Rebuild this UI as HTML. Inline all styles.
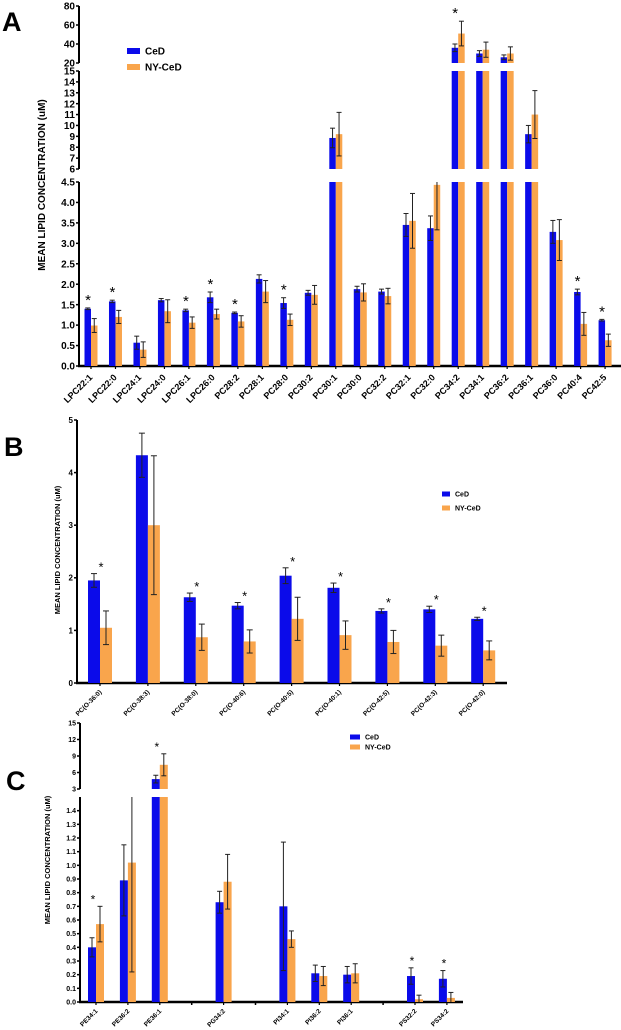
<!DOCTYPE html>
<html><head><meta charset="utf-8">
<style>
html,body{margin:0;padding:0;background:#fff;}
svg{display:block;font-family:"Liberation Sans",Arial,sans-serif;font-weight:bold;}
</style></head>
<body>
<svg id="fig" width="621" height="1030" viewBox="0 0 621 1030">
<text x="2" y="31" font-size="27">A</text>
<text x="4" y="456" font-size="27">B</text>
<text x="6" y="790" font-size="27">C</text>
</svg>
<script>
// ---------- Panel A data ----------
const catsA = ["LPC22:1","LPC22:0","LPC24:1","LPC24:0","LPC26:1","LPC26:0","PC28:2","PC28:1","PC28:0","PC30:2","PC30:1","PC30:0","PC32:2","PC32:1","PC32:0","PC34:2","PC34:1","PC36:2","PC36:1","PC36:0","PC40:4","PC42:5"];
const cedA = [1.40,1.58,0.57,1.61,1.36,1.68,1.30,2.13,1.54,1.79,8.85,1.88,1.82,3.45,3.37,36,30,26,9.2,3.28,1.81,1.12];
const cedErrA = [0.02,0.03,0.16,0.04,0.03,0.13,0.02,0.10,0.13,0.06,0.9,0.07,0.06,0.28,0.30,4,3,2.5,0.8,0.28,0.07,0.02];
const nyA = [0.99,1.20,0.40,1.34,1.06,1.27,1.09,1.82,1.13,1.74,9.2,1.80,1.71,3.55,4.43,51,34,30,11.0,3.08,1.03,0.63];
const nyErrA = [0.17,0.16,0.19,0.28,0.14,0.12,0.14,0.27,0.14,0.23,2.0,0.21,0.19,0.67,1.1,13,8,7,2.2,0.50,0.28,0.15];
const starsA = [1,1,0,0,1,1,1,0,1,0,0,0,0,0,0,1,0,0,0,0,1,1];
const ticksA1 = [20,40,60,80];
const ticksA2 = [6,7,8,9,10,11,12,13,14,15];
const ticksA3 = [0,0.5,1,1.5,2,2.5,3,3.5,4,4.5];
// ---------- Panel B data ----------
const catsB = ["PC(O-36:0)","PC(O-38:3)","PC(O-38:0)","PC(O-40:6)","PC(O-40:5)","PC(O-40:1)","PC(O-42:5)","PC(O-42:3)","PC(O-42:0)"];
const cedB = [1.95,4.33,1.63,1.47,2.04,1.81,1.37,1.40,1.22];
const cedErrB = [0.13,0.42,0.08,0.06,0.15,0.09,0.04,0.06,0.03];
const nyB = [1.05,3.00,0.87,0.79,1.22,0.91,0.78,0.71,0.62];
const nyErrB = [0.32,1.32,0.25,0.22,0.41,0.27,0.22,0.20,0.18];
const starsB = [1,0,1,1,1,1,1,1,1];
const ticksB = [0,1,2,3,4,5];
// ---------- Panel C data ----------
const catsC = ["PE34:1","PE36:2","PE36:1","PG34:2","PI34:1","PI36:2","PI36:1","PS32:2","PS34:2"];
const slotsC = [0,1,2,4,6,7,8,10,11];
const sepC = [3,5,9];
const cedC = [0.40,0.89,4.8,0.73,0.70,0.21,0.20,0.19,0.17];
const cedErrC = [0.07,0.26,0.7,0.08,0.47,0.06,0.06,0.06,0.06];
const nyC = [0.57,1.02,7.4,0.88,0.46,0.19,0.21,0.02,0.03];
const nyErrC = [0.13,0.80,2.0,0.20,0.06,0.07,0.07,0.03,0.04];
const starsC = [1,0,1,0,0,0,0,1,1];
const ticksC1 = [3,6,9,12,15];
const ticksC2 = [0,0.1,0.2,0.3,0.4,0.5,0.6,0.7,0.8,0.9,1.0,1.1,1.2,1.3,1.4];

const NS="http://www.w3.org/2000/svg";
const svg=document.getElementById('fig');
const BLUE="#0b0bea", ORANGE="#f9a54c";
function mk(tag,attrs,parent){const e=document.createElementNS(NS,tag);for(const k in attrs)e.setAttribute(k,attrs[k]);(parent||svg).appendChild(e);return e;}

function segOf(segs,v){for(const s of segs){if(v>=s.lo&&v<=s.hi)return s;}return null;}
function yIn(s,v){return s.y0-(v-s.lo)*(s.y0-s.y1)/(s.hi-s.lo);}
function topY(segs,v,e){const s=segOf(segs,v);return yIn(s,Math.min(v+e,s.hi));}

function drawChart(c){
  const g=mk('g',{});
  
  
  const segs=c.segs;
  const axisY=segs[0].y0;
  segs.forEach((s,si)=>{
    const l=mk('line',{x1:c.ax,x2:c.ax,y1:s.y0,y2:s.y1,stroke:'#000','stroke-width':2},g);
    
    
    s.ticks.forEach(t=>{
      const y=yIn(s,t);
      const tl=mk('line',{x1:c.ax-3,x2:c.ax,y1:y,y2:y,stroke:'#000','stroke-width':1.5},g);
      
      
      const tx=mk('text',{x:c.ax-4,y:y+c.tfs*0.36,'font-size':c.tfs,'text-anchor':'end'},g);
      tx.textContent=s.fmt(t);
      
      
    });
  });
  const xa=mk('line',{x1:c.ax-1,x2:c.axEnd,y1:axisY,y2:axisY,stroke:'#000','stroke-width':2.5},g);
  
  
  (c.seps||[]).forEach(sp=>{
    const x=c.x0+sp*c.step;
    const t=mk('line',{x1:x,x2:x,y1:axisY,y2:axisY+3,stroke:'#000','stroke-width':1.5},g);
    
    
  });
  c.cats.forEach((cat,i)=>{
    const cx=c.x0+c.slots[i]*c.step;
    const t=mk('line',{x1:cx,x2:cx,y1:axisY,y2:axisY+3,stroke:'#000','stroke-width':1.2},g);
    
    
    [[c.ced[i],c.cedErr[i],BLUE,-1,'ced'],[c.ny[i],c.nyErr[i],ORANGE,0,'ny-ced']].forEach(([v,e,col,off,ser])=>{
      const bx=cx+off*c.bw;
      segs.forEach(s=>{
        if(v>s.lo){
          const top=yIn(s,Math.min(v,s.hi));
          const r=mk('rect',{x:bx,y:top,width:c.bw,height:s.y0-top,fill:col},g);
          
          
        }
      });
      const s=segOf(segs,v);
      if(s){
        const ex=bx+c.bw/2;
        const lo=Math.max(v-e,s.lo), hi=Math.min(v+e,s.hi);
        const y1=yIn(s,lo), y2=yIn(s,hi);
        const el=mk('line',{x1:ex,x2:ex,y1:y1,y2:y2,stroke:'#222','stroke-width':1},g);
        
        
        const cw=c.capW;
        if(v-e>=s.lo){const cp=mk('line',{x1:ex-cw,x2:ex+cw,y1:y1,y2:y1,stroke:'#222','stroke-width':1},g);}
        if(v+e<=s.hi){const cp=mk('line',{x1:ex-cw,x2:ex+cw,y1:y2,y2:y2,stroke:'#222','stroke-width':1},g);}
      }
    });
    if(c.stars[i]){
      const ytop=Math.min(topY(segs,c.ced[i],c.cedErr[i]),topY(segs,c.ny[i],c.nyErr[i]));
      const st=mk('text',{x:cx+c.starDx,y:ytop-c.starGap,'font-size':c.sfs,'text-anchor':'middle','font-weight':'normal'},g);
      st.textContent='*';
      
      
    }
    const lx=cx+2, ly=axisY+c.lfs+3;
    const lb=mk('text',{x:lx,y:ly,'font-size':c.lfs,'text-anchor':'end',transform:`rotate(-45 ${lx} ${ly})`},g);
    lb.textContent=cat;
    
    
  });
  const yt=mk('text',{x:c.ytx,y:c.yty,'font-size':c.yfs,'text-anchor':'middle',transform:`rotate(-90 ${c.ytx} ${c.yty})`},g);
  yt.textContent='MEAN LIPID CONCENTRATION (uM)';
  
  
  [['CeD',BLUE,0],['NY-CeD',ORANGE,1]].forEach(([n,col,k])=>{
    const y=c.legY+k*c.legDy;
    const r=mk('rect',{x:c.legX,y:y-c.legH/2,width:c.legW,height:c.legH,fill:col},g);
    
    
    const t=mk('text',{x:c.legX+c.legW+5,y:y+c.legFs*0.36,'font-size':c.legFs},g);
    t.textContent=n;
    
    
  });
}

const f1=v=>v.toFixed(1), f0=v=>String(v);
drawChart({name:'panel-a-chart',cats:catsA,ced:cedA,cedErr:cedErrA,ny:nyA,nyErr:nyErrA,stars:starsA,
  slots:catsA.map((_,i)=>i),x0:91,step:24.48,bw:6.5,capW:2.5,ax:79,axEnd:621,
  segs:[{lo:0,hi:4.5,y0:366,y1:182,ticks:ticksA3,fmt:f1},{lo:6,hi:15,y0:169,y1:71,ticks:ticksA2,fmt:f0},{lo:20,hi:80,y0:63,y1:6,ticks:ticksA1,fmt:f0}],
  tfs:10,lfs:9,sfs:15,starGap:3,starDx:-3,ytx:45,yty:185,yfs:10,legX:127,legY:51,legDy:16,legW:13,legH:6,legFs:10});
drawChart({name:'panel-b-chart',cats:catsB,ced:cedB,cedErr:cedErrB,ny:nyB,nyErr:nyErrB,stars:starsB,
  slots:catsB.map((_,i)=>i),x0:100,step:47.9,bw:12,capW:3,ax:77,axEnd:507,
  segs:[{lo:0,hi:5,y0:683,y1:420,ticks:ticksB,fmt:f0}],
  tfs:8,lfs:6.5,sfs:13,starGap:2,starDx:1,ytx:60,yty:550,yfs:7.5,legX:442,legY:494,legDy:14,legW:8,legH:5,legFs:7});
drawChart({name:'panel-c-chart',cats:catsC,ced:cedC,cedErr:cedErrC,ny:nyC,nyErr:nyErrC,stars:starsC,
  slots:slotsC,seps:sepC,x0:96,step:31.9,bw:8,capW:2.5,ax:80,axEnd:463,
  segs:[{lo:0,hi:1.5,y0:1002,y1:797,ticks:ticksC2,fmt:f1},{lo:3,hi:15,y0:789,y1:723,ticks:ticksC1,fmt:f0}],
  tfs:7,lfs:6.5,sfs:12,starGap:3,starDx:-3,ytx:50,yty:860,yfs:7.5,legX:350,legY:737,legDy:10,legW:10,legH:5,legFs:7});
</script>
</body></html>
